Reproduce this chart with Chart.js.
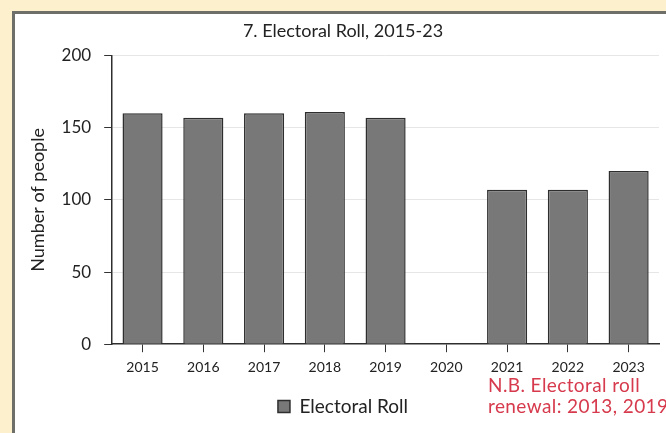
<!DOCTYPE html>
<html>
<head>
<meta charset="utf-8">
<script src="https://cdn.jsdelivr.net/npm/chart.js@4.4.1/dist/chart.umd.min.js"></script>
<style>
  html, body { margin: 0; padding: 0; }
  body { width: 666px; height: 433px; background: #fcf1cc; position: relative; overflow: hidden; }
  .panel {
    position: absolute; left: 12px; top: 11px; width: 680px; height: 440px;
    background: #fff; border-left: 3px solid #6f6f6a; border-top: 3px solid #6f6f6a;
  }
  #chart { position: absolute; left: 0; top: 0; }
  .note {
    position: absolute; left: 488px; top: 374px; color: #d63a4c;
    font-family: Lato, "DejaVu Sans", sans-serif; font-size: 19px; line-height: 21px;
    letter-spacing: 0.4px; white-space: nowrap;
  }
</style>
</head>
<body>
<div class="panel"></div>
<canvas id="chart" width="666" height="433"></canvas>
<div class="note">N.B. Electoral roll<br>renewal: 2013, 2019</div>
<script>
const years = ['2015', '2016', '2017', '2018', '2019', '2020', '2021', '2022', '2023'];
const electoralRoll = [160, 157, 160, 161, 157, null, 107, 107, 120];
const yTicks = [0, 50, 100, 150, 200];

const fontFamily = 'Lato, "DejaVu Sans", sans-serif';

const ctx = document.getElementById('chart').getContext('2d');
new Chart(ctx, {
    type: 'bar',
    data: {
        labels: years,
        datasets: [{
            label: 'Electoral Roll',
            data: electoralRoll,
            backgroundColor: '#787878',
            borderColor: '#2e2e2e',
            borderWidth: 1.5,
            barPercentage: 0.66,
            categoryPercentage: 1
        }]
    },
    options: {
        responsive: false,
        animation: false,
        layout: { padding: { left: 27, right: 7, top: 10, bottom: 7 } },
        plugins: {
            title: {
                display: true,
                text: '7. Electoral Roll, 2015-23',
                color: '#222',
                font: { family: fontFamily, size: 18, weight: 'normal' },
                padding: { top: 10, bottom: 14 }
            },
            legend: {
                position: 'bottom',
                labels: {
                    color: '#222',
                    font: { family: fontFamily, size: 19 },
                    boxWidth: 12,
                    boxHeight: 12,
                    padding: 14
                }
            },
            tooltip: { enabled: false }
        },
        scales: {
            x: {
                grid: { drawOnChartArea: false, offset: false, tickColor: '#333', tickLength: 8 },
                border: { color: '#2e2e2e', width: 1.5 },
                ticks: { color: '#222', font: { family: fontFamily, size: 14 }, padding: 7 }
            },
            y: {
                min: 0,
                max: 200,
                afterBuildTicks: axis => { axis.ticks = yTicks.map(v => ({ value: v })); },
                grid: {
                    color: c => c.tick && c.tick.value > 0 ? '#e6e6e6' : 'rgba(0,0,0,0)',
                    tickColor: '#333',
                    tickLength: 8
                },
                border: { color: '#2e2e2e', width: 1.5 },
                ticks: { color: '#222', font: { family: fontFamily, size: 17 }, padding: 13 },
                title: {
                    display: true,
                    text: 'Number of people',
                    color: '#222',
                    font: { family: fontFamily, size: 18 },
                    padding: { top: 0, bottom: 0 }
                }
            }
        }
    }
});
</script>
</body>
</html>
